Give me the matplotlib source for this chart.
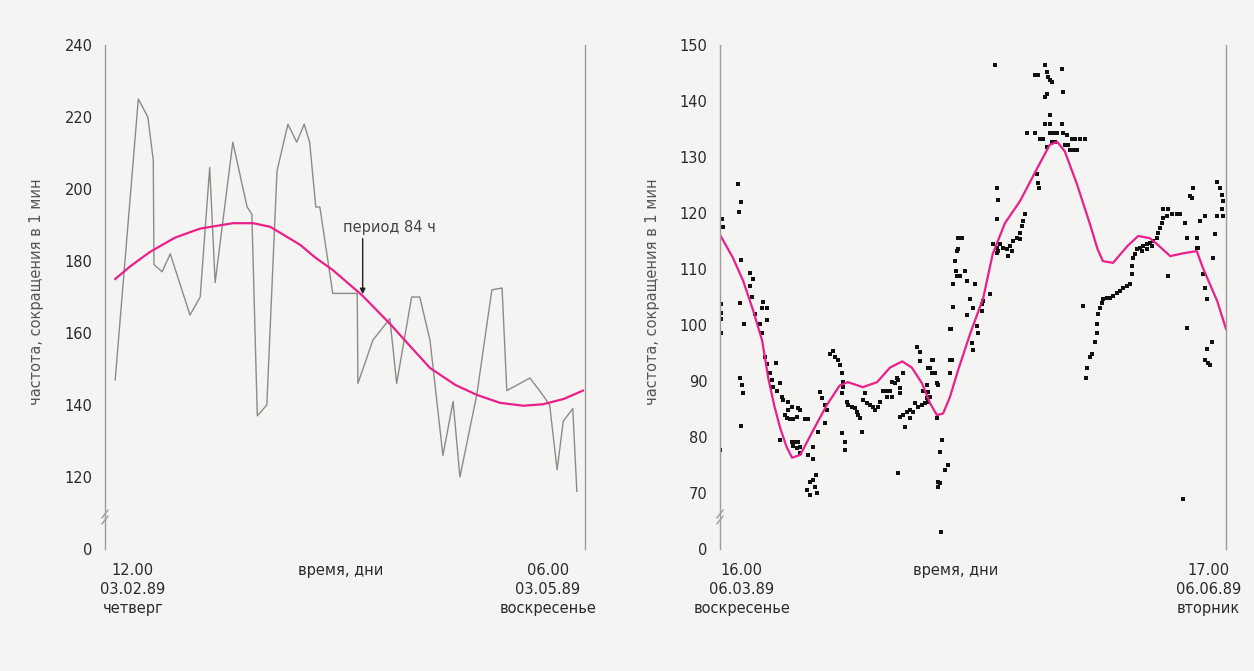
import matplotlib
matplotlib.use("Agg")
import matplotlib.pyplot as plt
import matplotlib.transforms as mtransforms

# ---------------- data: left panel (hours from axis start) ----------------
left_t = [1.5, 4.9, 6.3, 7.1, 7.2, 8.4, 9.6, 12.5, 14.0, 15.4, 16.2, 18.8, 20.9, 21.6,
          22.4, 23.8, 25.3, 26.9, 28.2, 29.3, 30.1, 31.0, 31.6, 33.5, 37.1, 37.2, 39.4,
          41.9, 42.9, 45.1, 46.3, 47.8, 49.7, 51.2, 52.2, 54.7, 56.9, 58.4, 59.1, 62.5,
          64.3, 65.4, 66.5, 67.4, 68.8, 69.4]
left_hr = [147, 225, 220, 208, 179, 177, 182, 165, 170, 206, 174, 213, 195, 193,
           137, 140, 205, 218, 213, 218, 213, 195, 195, 171, 171, 146, 158,
           164, 146, 170, 170, 158, 126, 141, 120, 143, 172, 172.5, 144, 147.5,
           143, 140, 122, 135.5, 139, 116]
left_fit_t = [1.5, 3.7, 6.6, 10.3, 14.0, 18.8, 21.8, 24.3, 28.7, 30.9, 33.5, 37.8,
              41.9, 44.9, 47.8, 51.5, 54.7, 58.1, 61.5, 64.4, 67.5, 70.3]
left_fit = [175, 178.5, 182.5, 186.5, 189, 190.5, 190.5, 189.5, 184.5, 181, 177.5,
            170.5, 162.6, 156.3, 150.3, 145.6, 142.8, 140.6, 139.8, 140.2, 141.7, 144]

# ---------------- data: right panel ----------------
right_t = [2.6, 3.1, 2.8, 0.3, 0.4, 3.1, 4.4, 4.9, 4.4, 4.7, 2.9, 6.3, 6.2, 6.9, 5.1, 6.9,
           5.9, 6.2, 3.5, 0.15, 0.15, 0.15, 0.15, 6.6, 6.9, 8.2,
           2.9, 3.2, 3.4, 3.1, 0.0, 7.4, 7.6, 7.8, 8.8, 8.4, 9.1, 9.3,
           10.0, 10.6, 11.5, 10.0, 9.6, 9.9, 10.3, 10.7, 11.3, 11.8, 12.5, 12.9,
           8.8, 10.6, 11.0, 11.5, 10.7, 11.3, 11.8, 11.8, 13.7, 12.9, 13.7, 14.4,
           14.1, 13.7, 13.2, 14.0, 12.8, 13.2, 14.3, 14.7, 15.0, 15.4, 15.7, 15.4,
           16.2, 16.6, 16.9, 17.4, 17.6, 17.9, 18.1, 18.1, 17.9,
           18.7, 18.8, 19.4, 19.9, 20.1, 20.3, 20.6,
           21.3, 21.0, 21.6, 22.1, 22.5, 22.8, 23.2, 23.5, 20.9, 17.9, 18.4, 18.4,
           24.0, 24.6, 25.0, 25.3, 24.6, 25.3, 25.7, 26.2, 26.0, 26.5, 26.5, 26.9,
           26.5, 26.9, 27.5, 27.9, 28.4, 27.9, 27.2,
           28.7, 29.1, 29.7, 30.1, 30.6, 29.9, 30.4, 29.0, 29.4, 29.4, 31.2, 30.9,
           30.6, 31.2, 31.6, 31.3, 31.9, 32.1, 30.6, 30.9, 30.4, 26.2, 31.9,
           32.6, 32.4, 33.5, 33.1, 32.1, 32.4, 32.1, 32.5, 33.8, 33.8,
           35.0, 34.9, 34.6, 34.7, 34.9, 34.3, 34.3, 34.0, 34.1, 36.3, 33.8,
           35.6, 35.0, 36.0, 35.3, 36.3, 37.5, 36.8, 37.2, 38.5, 38.7, 39.7, 37.8,
           37.9, 37.1, 38.5, 37.2,
           40.4, 47.8, 46.3, 46.8, 48.1, 48.2, 48.5, 48.8, 50.3, 50.4, 48.1, 47.8,
           48.5, 47.8, 48.5, 50.3,
           45.1, 46.3, 47.1, 47.5, 48.5, 49.0, 49.6, 50.4, 51.0, 48.8, 49.3, 50.7,
           51.2, 51.5, 51.9, 52.2, 52.9, 53.7, 51.8, 48.1, 52.5,
           46.6, 46.8, 46.9, 40.7, 40.9, 40.7, 44.9, 44.6, 44.4, 44.1, 44.1,
           40.1, 40.7, 41.2, 41.6, 42.2, 42.6, 42.9, 42.4, 43.1, 43.7, 40.7, 40.9,
           53.4, 55.4, 55.4, 55.6, 55.9, 56.2, 56.3, 56.9, 57.4, 57.8, 58.4, 58.8,
           59.3, 59.9, 60.3, 60.6, 60.6, 60.7, 61.0, 61.3, 61.8, 62.2, 62.8, 63.2,
           63.7, 64.3, 64.4, 64.7, 65.0, 65.1, 65.7, 65.1, 65.9, 66.5, 67.2, 67.6,
           62.1, 62.8, 63.5,
           55.1, 54.7, 54.4, 54.0, 53.8,
           68.4, 68.7, 70.1, 70.1, 70.3, 69.1, 69.6, 69.4, 70.6, 71.3, 65.9, 68.7,
           71.0, 71.3, 71.6, 72.8, 72.5, 73.1, 73.5, 73.8, 74.0, 73.8, 74.0, 73.1,
           72.4, 71.6, 71.3, 71.8, 72.1, 68.1]
right_hr = [125.1, 121.9, 120.1, 118.9, 117.5, 111.6, 109.3, 108.2, 107.0, 105.0, 104.0,
            104.1, 103.1, 103.1, 102.0, 100.9, 100.2, 98.6, 100.1, 103.8, 102.2, 101.1,
            98.6, 94.2, 93.1, 93.3,
            90.5, 89.2, 87.8, 81.9, 77.7, 91.4, 90.1, 89.0, 89.6, 88.3, 87.1, 86.6,
            86.2, 85.3, 85.1, 84.8, 83.9, 83.4, 83.2, 83.2, 83.5, 84.8, 83.2, 83.2,
            79.4, 79.1, 79.1, 79.1, 78.4, 78.0, 78.2, 77.1, 78.2, 76.8, 76.1, 80.9,
            73.2, 72.4, 72.0, 71.1, 70.6, 69.7, 70.0, 88.0, 86.9, 85.7, 84.8, 82.5,
            94.9, 95.4, 94.2, 93.7, 92.8, 91.4, 89.8, 88.9, 87.8,
            86.2, 85.7, 85.3, 85.1, 84.4, 83.9, 83.4,
            87.8, 86.6, 86.0, 85.7, 85.3, 84.8, 85.3, 86.2, 80.9, 80.7, 79.1, 77.7,
            88.3, 88.3, 88.3, 87.1, 87.1, 89.8, 89.6, 90.1, 90.6, 88.7, 87.8, 91.4,
            83.5, 83.9, 84.4, 84.8, 84.4, 83.4, 81.8,
            86.0, 85.3, 85.7, 86.0, 86.2, 88.3, 89.2, 96.1, 95.1, 93.5, 93.8, 92.4,
            92.4, 91.5, 91.4, 93.7, 89.6, 89.2, 88.0, 87.1, 86.9, 73.6, 83.4,
            79.4, 77.3, 75.0, 74.1, 72.0, 71.8, 71.1, 63.1, 93.7, 91.4,
            115.5, 113.2, 111.4, 109.6, 108.8, 107.3, 103.3, 99.2, 93.7, 101.7, 99.3,
            115.5, 113.6, 109.6, 108.8, 107.9, 107.3, 104.7, 103.1, 103.8, 104.3, 105.6,
            99.9, 98.5, 96.7, 102.5, 95.6,
            146.4, 146.4, 144.6, 144.6, 145.2, 144.3, 143.7, 143.4, 145.7, 141.6, 141.3,
            140.7, 137.5, 135.9, 135.9, 135.9,
            134.3, 134.2, 133.3, 133.3, 134.2, 134.2, 134.2, 134.2, 134.0, 132.7, 132.7,
            132.2, 132.2, 131.3, 131.3, 133.3, 133.3, 133.3, 133.3, 131.8, 131.3,
            127.0, 125.3, 124.4, 124.4, 122.4, 118.9, 119.8, 118.5, 117.6, 116.4, 115.3,
            114.4, 113.7, 114.4, 113.7, 113.6, 114.1, 113.2, 112.3, 115.0, 115.5, 112.8,
            113.2,
            103.4, 98.5, 100.2, 102.0, 103.1, 104.0, 104.7, 104.8, 104.8, 105.2, 105.7,
            106.1, 106.6, 107.0, 107.3, 109.1, 110.5, 112.0, 112.7, 113.6, 113.7, 114.1,
            114.4, 114.6, 115.0, 115.5, 116.4, 117.3, 118.2, 119.1, 119.4, 120.7, 120.7,
            119.8, 119.8, 119.8, 113.2, 113.6, 114.1,
            96.9, 94.9, 94.2, 92.4, 90.6,
            118.2, 115.5, 115.5, 113.7, 113.7, 123.0, 124.4, 122.6, 118.5, 119.4, 108.8,
            99.5, 109.1, 106.6, 104.7, 116.2, 112.0, 125.6, 124.4, 123.3, 122.1, 120.8,
            119.4, 119.4, 96.9, 95.8, 93.8, 93.3, 92.8, 69.0]
right_fit_t = [0.1, 1.9, 3.4, 4.9, 6.2, 7.1, 8.0, 8.8, 9.8, 10.6, 11.8, 13.7, 15.7, 17.6,
               18.8, 21.0, 23.1, 25.0, 26.8, 28.2, 29.7, 30.9, 31.9, 32.8, 33.8, 35.0,
               36.8, 38.7, 40.1, 41.9, 44.1, 46.6, 48.5, 49.6, 50.7, 52.5, 54.4, 55.5,
               56.3, 57.8, 59.9, 61.5, 63.2, 64.3, 66.2, 68.1, 70.1, 71.0, 73.1, 74.4]
right_fit = [115.9, 112.0, 107.9, 102.5, 97.2, 90.5, 85.5, 81.8, 78.2, 76.3, 76.8, 81.2,
             85.7, 89.2, 89.8, 88.9, 89.8, 92.4, 93.5, 92.4, 89.6, 86.0, 83.9, 84.2,
             87.1, 91.9, 98.5, 104.8, 112.7, 118.2, 122.1, 127.9, 132.2, 132.7, 131.0,
             125.1, 118.0, 113.6, 111.4, 111.1, 114.1, 115.9, 115.5, 114.4, 112.3, 112.8,
             113.2, 110.2, 104.3, 99.3]

left_yticks = [100, 120, 140, 160, 180, 200, 220, 240]
left_ylabels = ["0", "120", "140", "160", "180", "200", "220", "240"]
right_yticks = [60, 70, 80, 90, 100, 110, 120, 130, 140, 150]
right_ylabels = ["0", "70", "80", "90", "100", "110", "120", "130", "140", "150"]

left_xlabels = [(4.1, "12.00\n03.02.89\nчетверг"), (34.6, "время, дни"),
                (65.1, "06.00\n03.05.89\nвоскресенье")]
right_xlabels = [(3.2, "16.00\n06.03.89\nвоскресенье"), (34.6, "время, дни"),
                 (71.8, "17.00\n06.06.89\nвторник")]
ylabel = "частота, сокращения в 1 мин"

# ---------------- styling ----------------
BG = "#f4f4f2"
TXT = "#2a2a2a"
AX = "#a09c9c"
PINK = "#ea1f8c"
plt.rcParams["font.family"] = ["DejaVu Sans"]

fig = plt.figure(figsize=(12.54, 6.71), dpi=100, facecolor=BG)
axL = fig.add_axes([105 / 1254, 122 / 671, 480 / 1254, 504 / 671])
axR = fig.add_axes([720 / 1254, 122 / 671, 506 / 1254, 504 / 671])


def style(ax, xmax, ylim, yt, yl, xlabels):
    ax.set_facecolor(BG)
    ax.set_xlim(0, xmax)
    ax.set_ylim(*ylim)
    for s in ["top", "bottom"]:
        ax.spines[s].set_visible(False)
    for s in ["left", "right"]:
        ax.spines[s].set_color(AX)
        ax.spines[s].set_linewidth(1.0)
    ax.set_yticks(yt)
    ax.set_yticklabels(yl)
    ax.set_xticks([])
    ax.tick_params(axis="y", length=0, pad=9, labelsize=10.5, labelcolor=TXT)
    tr = mtransforms.blended_transform_factory(ax.transData, ax.transAxes)
    for x, lab in xlabels:
        ax.text(x, -0.028, lab, transform=tr, ha="center", va="top", fontsize=10.5,
                color=TXT, linespacing=1.32)
    # axis break marks
    for dy in (0.0, 0.012):
        ax.plot([-0.006, 0.006], [0.05 + dy, 0.065 + dy], transform=ax.transAxes,
                color=AX, lw=1.0, clip_on=False)


style(axL, 70.6, (100, 240), left_yticks, left_ylabels, left_xlabels)
style(axR, 74.4, (60, 150), right_yticks, right_ylabels, right_xlabels)

axL.plot(left_t, left_hr, color="#8f8a86", lw=1.0)
axL.plot(left_fit_t, left_fit, color=PINK, lw=1.6)
axL.annotate("", xy=(37.9, 170.0), xytext=(37.9, 187.0),
             arrowprops=dict(arrowstyle="-|>", color="#222222", lw=1.0,
                             mutation_scale=8))
axL.text(35.0, 189.3, "период 84 ч", fontsize=10.5, color="#444444", ha="left",
         va="center")

axR.plot(right_t, right_hr, "s", color="#111111", ms=3.4, mew=0)
axR.plot(right_fit_t, right_fit, color=PINK, lw=1.6)

fig.text(37 / 1254, 1 - 292 / 671, ylabel, rotation=90, ha="center", va="center",
         fontsize=10.5, color="#555555")
fig.text(652 / 1254, 1 - 292 / 671, ylabel, rotation=90, ha="center", va="center",
         fontsize=10.5, color="#555555")

fig.savefig("out.png", dpi=100, facecolor=BG)
